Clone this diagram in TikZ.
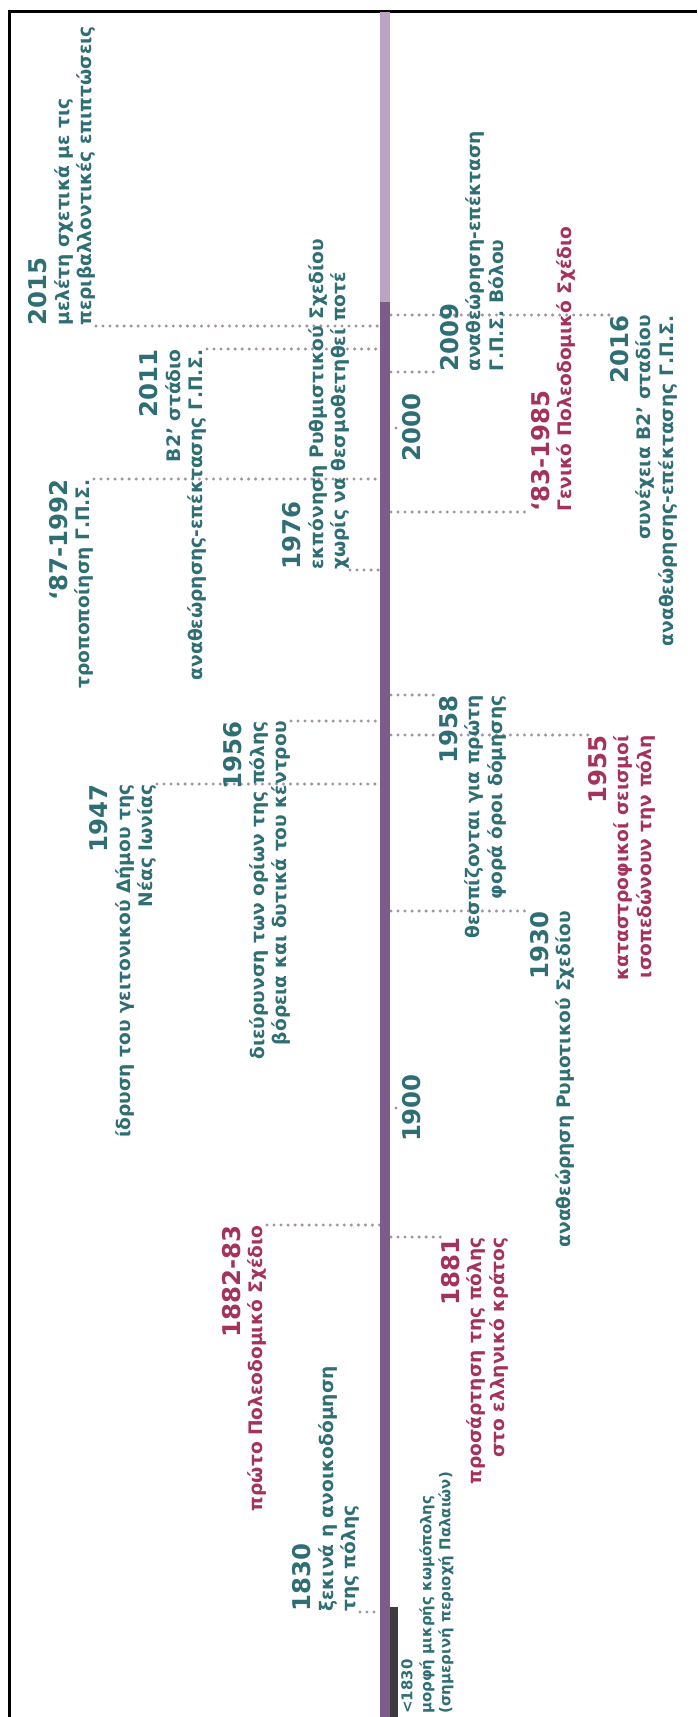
\documentclass[tikz,border=0pt]{standalone}
\usepackage{fontspec}
\setmainfont{DejaVu Sans}
\usetikzlibrary{backgrounds}
\definecolor{Teal}{HTML}{2E6E74}
\definecolor{Crimson}{HTML}{A5325C}
\definecolor{Plum}{HTML}{7D5B8B}
\definecolor{Lilac}{HTML}{BCA3C4}
\definecolor{Coal}{HTML}{3E3B40}
\definecolor{Dots}{HTML}{A293A1}
\newcommand{\descfont}{\fontsize{10.6}{12.8}\selectfont\bfseries}
\newcommand{\yearfont}{\fontsize{13.9}{12.8}\selectfont\bfseries}
\newcommand{\notefont}{\fontsize{8.5}{10.8}\selectfont\bfseries}
\newcommand{\yr}[1]{{\yearfont #1}}
\tikzset{
  leader/.style={draw=Dots,line width=1.9pt,line cap=round,dash pattern=on 0pt off 4pt},
  evt/.style={rotate=90,inner sep=0pt,font=\descfont,text=Teal},
  evtred/.style={evt,text=Crimson},
  axislbl/.style={rotate=90,anchor=north,inner sep=0pt,font=\yearfont,text=Teal}
}

\begin{document}
\begin{tikzpicture}[x=0.02cm,y=-0.02cm]
  \useasboundingbox (0,0) rectangle (697,1717);
  % frame
  \draw[line width=1.7pt] (9.5,1717) -- (9.5,11.5) -- (697,11.5);
  % time axis
  \fill[Lilac] (380,12) rectangle (390,302);
  \fill[Plum] (380,302) rectangle (390,1717);
  \fill[Coal] (390,1607) rectangle (398,1717);
  \coordinate (axisL) at (380,0);
  \coordinate (axisR) at (391,0);
  \foreach \y/\t in {428/2000,1108/1900}{
    \fill[Dots] (396,\y) circle (1.6);
    \node[axislbl] (a\t) at (402,\y) {\t};}
  % above the axis
  \node[evt,anchor=south west,align=left] (l2015) at (96,326) {\yr{2015}\\μελέτη σχετικά με τις\\περιβαλλοντικές επιπτώσεις};
  \node[evt,anchor=south east,align=right] (l2011) at (207,349) {\yr{2011}\\Β2’ στάδιο\\αναθεώρησης-επέκτασης Γ.Π.Σ.};
  \node[evt,anchor=south east,align=right] (l1992) at (94,479) {\yr{‘87-1992}\\τροποποίηση Γ.Π.Σ.};
  \node[evt,anchor=south west,align=left] (l1976) at (350,570) {\yr{1976}\\εκπόνηση Ρυθμιστικού Σχεδίου\\χωρίς να θεσμοθετηθεί ποτέ};
  \node[evt,anchor=south east,align=right] (l1956) at (291,721) {\yr{1956}\\διεύρυνση των ορίων της πόλης\\βόρεια και δυτικά του κέντρου};
  \node[evt,anchor=south east,align=right] (l1947) at (157,784) {\yr{1947}\\ίδρυση του γειτονικού Δήμου της\\Νέας Ιωνίας};
  \node[evtred,anchor=south east,align=right] (l1882) at (267,1225) {\yr{1882-83}\\πρώτο Πολεοδομικό Σχέδιο};
  \node[evt,anchor=south west,align=left] (l1830) at (360,1612) {\yr{1830}\\ξεκινά η ανοικοδόμηση\\της πόλης};
  % below the axis
  \node[evt,anchor=north west,align=left] (l2009) at (440,372) {\yr{2009}\\αναθεώρηση-επέκταση\\Γ.Π.Σ. Βόλου};
  \node[evt,anchor=north east,align=right] (l2016) at (610,315) {\yr{2016}\\συνέχεια Β2’ σταδίου\\αναθεώρησης-επέκτασης Γ.Π.Σ.};
  \node[evtred,anchor=north west,align=left] (l1985) at (531,512) {\yr{‘83-1985}\\Γενικό Πολεοδομικό Σχέδιο};
  \node[evt,anchor=north east,align=right] (l1958) at (439,695) {\yr{1958}\\θεσπίζονται για πρώτη\\φορά όροι δόμησης};
  \node[evtred,anchor=north east,align=right] (l1955) at (588,735) {\yr{1955}\\καταστροφικοί σεισμοί\\ισοπεδώνουν την πόλη};
  \node[evt,anchor=north east,align=right] (l1930) at (530,911) {\yr{1930}\\αναθεώρηση Ρυμοτικού Σχεδίου};
  \node[evtred,anchor=north east,align=right] (l1881) at (441,1237) {\yr{1881}\\προσάρτηση της πόλης\\στο ελληνικό κράτος};
  \node[evt,font=\notefont,anchor=north west,align=left] (l1800) at (401,1714) {<1830\\μορφή μικρής κωμόπολης\\(σημερινή περιοχή Παλαιών)};
  \begin{scope}[on background layer]
    \foreach \n/\a in {l2015/south west,l2011/south east,l1992/south east,l1976/south west,l1956/south east,l1947/south east,l1882/south east,l1830/south west}{
      \draw[leader] (\n.\a) -- (\n.\a -| axisL);}
    \foreach \n/\a in {l2009/north west,l2016/north east,l1985/north west,l1958/north east,l1955/north east,l1930/north east,l1881/north east}{
      \draw[leader] (\n.\a -| axisR) -- (\n.\a);}
  \end{scope}
\end{tikzpicture}
\end{document}
